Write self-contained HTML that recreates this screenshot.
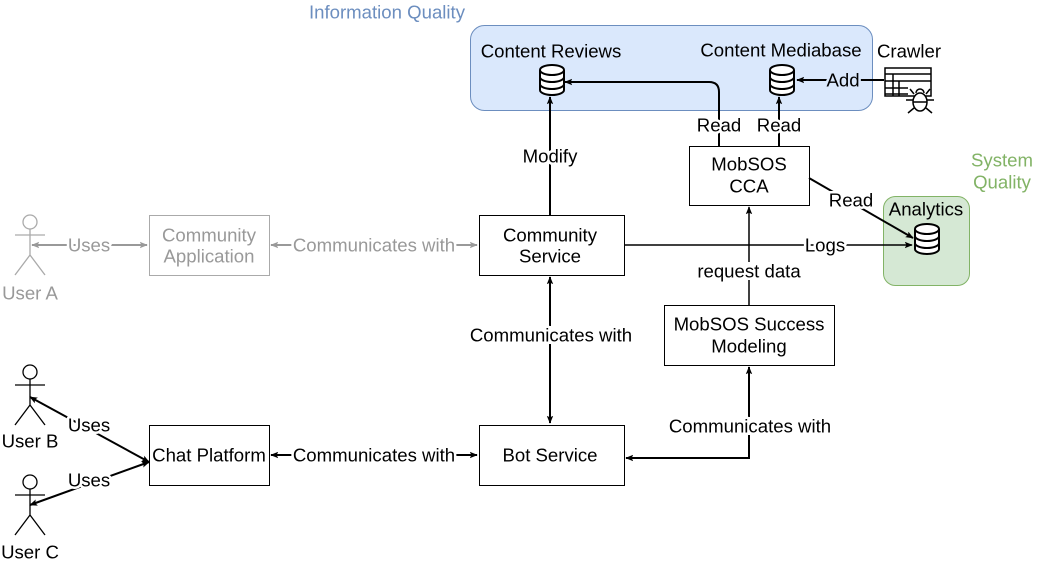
<!DOCTYPE html>
<html><head><meta charset="utf-8"><style>
html,body{margin:0;padding:0;background:#fff;width:1058px;height:564px;overflow:hidden}
svg{display:block}
text{font-family:"Liberation Sans",Arial,sans-serif;font-size:18.6px;text-anchor:middle;dominant-baseline:central}
.l{paint-order:stroke;stroke:#fff;stroke-width:5px;stroke-linejoin:round}
</style></head><body>
<svg width="1058" height="564" viewBox="0 0 1058 564" xmlns="http://www.w3.org/2000/svg">
<defs>
<marker id="a" viewBox="0 0 10 10" refX="9" refY="5" markerWidth="8" markerHeight="8" orient="auto-start-reverse" markerUnits="userSpaceOnUse"><path d="M0,1 L10,5 L0,9 L2,5 Z" fill="#000"/></marker>
<marker id="g" viewBox="0 0 10 10" refX="9" refY="5" markerWidth="8" markerHeight="8" orient="auto-start-reverse" markerUnits="userSpaceOnUse"><path d="M0,1 L10,5 L0,9 L2,5 Z" fill="#999"/></marker>
<g id="db" fill="#fff" stroke="#000" stroke-width="2">
<path d="M0,5 a12,5 0 0 1 24,0 v20 a12,5 0 0 1 -24,0 Z"/>
<path d="M0,5 a12,5 0 0 0 24,0 M0,12 a12,5 0 0 0 24,0 M0,19 a12,5 0 0 0 24,0" fill="none"/>
</g>
<g id="actor" fill="none" stroke-width="1.3">
<circle cx="0" cy="7" r="7"/><path d="M0,14 V40 M-15,20 H15 M0,40 L-15,60 M0,40 L15,60"/>
</g>
</defs>

<rect x="470.5" y="25.5" width="402" height="85" rx="14" fill="#dae8fc" stroke="#6c8ebf"/>
<text x="387" y="12" fill="#6c8ebf">Information Quality</text>
<rect x="883.5" y="196.5" width="86" height="89" rx="12" fill="#d5e8d4" stroke="#82b366"/>
<text x="1002" y="160" fill="#82b366">System</text>
<text x="1002" y="182" fill="#82b366">Quality</text>

<text x="551" y="51">Content Reviews</text>
<text x="781" y="50">Content Mediabase</text>
<text x="909" y="51">Crawler</text>
<text x="926" y="209">Analytics</text>

<use href="#db" x="540" y="65"/>
<use href="#db" x="770" y="65"/>
<use href="#db" x="915" y="224"/>

<g stroke="#000" stroke-width="1.5" fill="none">
<rect x="885" y="68" width="46" height="28"/>
<path d="M885,74 H931 M885,81 H931 M885,88 H908 M885,94 H908 M893,74 V96 M899,81 V96"/>
<ellipse cx="920" cy="102" rx="7" ry="9" fill="#fff"/>
<path d="M913,102 H927 M914,94 L910,89 M926,94 L930,89 M913,100 H906 M927,100 H934 M914,108 L908,113 M926,108 L932,113 M916,93 a4,4 0 0 1 8,0"/>
</g>

<g fill="#fff" stroke="#000">
<rect x="689.5" y="146.5" width="120" height="59"/>
<rect x="479.5" y="215.5" width="145" height="60"/>
<rect x="664.5" y="305.5" width="170" height="60"/>
<rect x="479.5" y="425.5" width="145" height="60"/>
<rect x="149.5" y="425.5" width="120" height="60"/>
</g>
<rect x="149.5" y="215.5" width="120" height="60" fill="#fff" stroke="#aaa"/>

<g stroke="#000" stroke-width="2" fill="none">
<path d="M719,146 V92 Q719,82 709,82 H565" marker-end="url(#a)"/>
<path d="M779,146 V97" marker-end="url(#a)"/>
<path d="M884,80 H797" marker-end="url(#a)"/>
<path d="M550,215 V97" marker-end="url(#a)"/>
<path d="M809,178 L913,238" marker-end="url(#a)"/>
<path d="M624,245 H912" stroke-width="1.5" marker-end="url(#a)"/>
<path d="M749,305 V207" stroke-width="1.5" marker-end="url(#a)"/>
<path d="M550,277 V423" marker-start="url(#a)" marker-end="url(#a)"/>
<path d="M626,458 H749 V367" marker-start="url(#a)" marker-end="url(#a)"/>
<path d="M271,455 H477" marker-start="url(#a)" marker-end="url(#a)"/>
<path d="M149,462 L30,397" marker-start="url(#a)" marker-end="url(#a)"/>
<path d="M149,462 L30,505" marker-start="url(#a)" marker-end="url(#a)"/>
</g>
<g stroke="#999" stroke-width="2" fill="none">
<path d="M32,245 H147" marker-start="url(#g)" marker-end="url(#g)"/>
<path d="M271,245 H477" marker-start="url(#g)" marker-end="url(#g)"/>
</g>

<g fill="#fff">
<rect x="292" y="236" width="164" height="18"/>
<rect x="292" y="446" width="164" height="18"/>
<rect x="697" y="262" width="104" height="18"/>
<rect x="469" y="326" width="164" height="18"/>
<rect x="668" y="417" width="164" height="18"/>
</g>

<text class="l" x="719" y="125">Read</text>
<text class="l" x="779" y="125">Read</text>
<text class="l" x="843" y="80" style="stroke:#dae8fc">Add</text>
<text class="l" x="550" y="156">Modify</text>
<text class="l" x="851" y="200">Read</text>
<text class="l" x="825" y="245">Logs</text>
<text class="l" x="749" y="271">request data</text>
<text class="l" x="551" y="335">Communicates with</text>
<text class="l" x="750" y="426">Communicates with</text>
<text class="l" x="374" y="455">Communicates with</text>
<text class="l" x="89" y="425">Uses</text>
<text class="l" x="89" y="480">Uses</text>
<text class="l" x="89" y="245" fill="#999">Uses</text>
<text class="l" x="374" y="245" fill="#999">Communicates with</text>

<text x="749" y="164">MobSOS</text>
<text x="749" y="186">CCA</text>
<text x="550" y="235">Community</text>
<text x="550" y="256">Service</text>
<text x="749" y="324">MobSOS Success</text>
<text x="749" y="346">Modeling</text>
<text x="550" y="455">Bot Service</text>
<text x="209" y="455">Chat Platform</text>
<text x="209" y="235" fill="#999">Community</text>
<text x="209" y="256" fill="#999">Application</text>

<use href="#actor" x="30" y="215" stroke="#aaa"/>
<use href="#actor" x="30" y="365" stroke="#000"/>
<use href="#actor" x="30" y="475" stroke="#000"/>
<text x="30" y="293" fill="#999">User A</text>
<text x="30" y="441">User B</text>
<text x="30" y="552">User C</text>
</svg>
</body></html>
